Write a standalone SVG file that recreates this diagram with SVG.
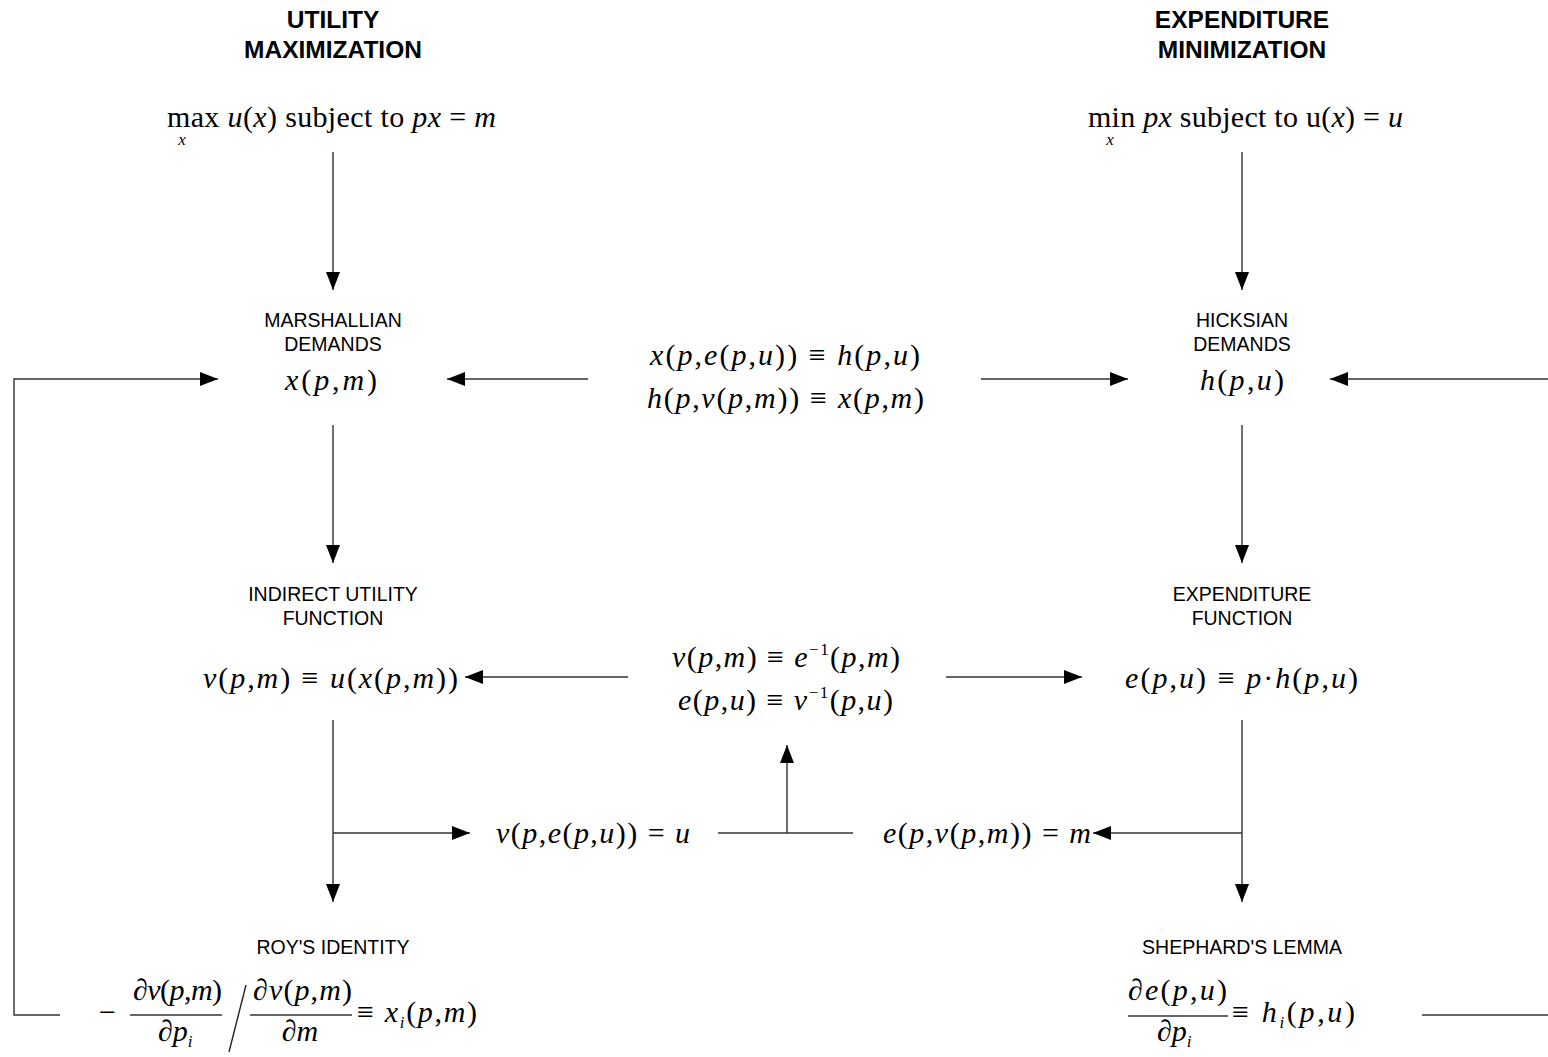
<svg xmlns="http://www.w3.org/2000/svg" width="1548" height="1057" viewBox="0 0 1548 1057">
<defs>
<marker id="ah" markerUnits="userSpaceOnUse" markerWidth="18" markerHeight="14" refX="18" refY="7" orient="auto">
<path d="M0,0 L18,7 L0,14 z" fill="#000"/>
</marker>
<style>
.ttl{font-family:"Liberation Sans",Arial,sans-serif;font-weight:bold;font-size:24.5px;fill:#000;text-anchor:middle}
.lbl{font-family:"Liberation Sans",Arial,sans-serif;font-size:19.5px;fill:#000;text-anchor:middle}
.m{font-family:"Liberation Serif","Times New Roman",serif;font-size:30px;fill:#000}
.i{font-style:italic}
.sm{font-size:17px}
.c{stroke:#333;stroke-width:1.4;fill:none}
.a{marker-end:url(#ah)}
</style>
</defs>
<rect width="1548" height="1057" fill="#fff"/>

<g id="connectors">
<line class="c a" x1="333" y1="152" x2="333" y2="290"/>
<line class="c a" x1="1242" y1="152" x2="1242" y2="290"/>
<line class="c a" x1="588" y1="379" x2="447" y2="379"/>
<line class="c a" x1="981" y1="379" x2="1128" y2="379"/>
<line class="c a" x1="1548" y1="379" x2="1330" y2="379"/>
<polyline class="c a" points="60,1015 14,1015 14,379 218,379"/>
<line class="c a" x1="333" y1="425" x2="333" y2="563"/>
<line class="c a" x1="1242" y1="425" x2="1242" y2="563"/>
<line class="c a" x1="628" y1="677" x2="465" y2="677"/>
<line class="c a" x1="946" y1="677" x2="1082" y2="677"/>
<line class="c a" x1="333" y1="720" x2="333" y2="902"/>
<line class="c a" x1="333" y1="833" x2="470" y2="833"/>
<line class="c a" x1="1242" y1="720" x2="1242" y2="902"/>
<line class="c a" x1="1242" y1="833" x2="1093" y2="833"/>
<line class="c" x1="718" y1="833" x2="853" y2="833"/>
<line class="c a" x1="787" y1="833" x2="787" y2="745"/>
<line class="c" x1="1422" y1="1015" x2="1548" y2="1015"/>
</g>

<g id="utility-max">
<text class="ttl" x="333" y="28">UTILITY</text>
<text class="ttl" x="333" y="58">MAXIMIZATION</text>
<text class="m" x="167" y="127" textLength="329" lengthAdjust="spacing">max <tspan class="i">u</tspan>(<tspan class="i">x</tspan>) subject to <tspan class="i">px</tspan> = <tspan class="i">m</tspan></text>
<text class="m i sm" x="182" y="145" text-anchor="middle">x</text>
</g>

<g id="expenditure-min">
<text class="ttl" x="1242" y="28">EXPENDITURE</text>
<text class="ttl" x="1242" y="58">MINIMIZATION</text>
<text class="m" x="1088" y="127" textLength="315" lengthAdjust="spacing">min  <tspan class="i">px</tspan> subject to u(<tspan class="i">x</tspan>) = <tspan class="i">u</tspan></text>
<text class="m i sm" x="1110" y="145" text-anchor="middle">x</text>
</g>

<g id="marshallian">
<text class="lbl" x="333" y="327">MARSHALLIAN</text>
<text class="lbl" x="333" y="351">DEMANDS</text>
<text class="m" x="285" y="390" textLength="92" lengthAdjust="spacing"><tspan class="i">x</tspan>(<tspan class="i">p</tspan>,<tspan class="i">m</tspan>)</text>
</g>

<g id="duality-demands">
<text class="m" x="650" y="365" textLength="270" lengthAdjust="spacing"><tspan class="i">x</tspan>(<tspan class="i">p</tspan>,<tspan class="i">e</tspan>(<tspan class="i">p</tspan>,<tspan class="i">u</tspan>)) ≡ <tspan class="i">h</tspan>(<tspan class="i">p</tspan>,<tspan class="i">u</tspan>)</text>
<text class="m" x="647" y="408" textLength="277" lengthAdjust="spacing"><tspan class="i">h</tspan>(<tspan class="i">p</tspan>,<tspan class="i">v</tspan>(<tspan class="i">p</tspan>,<tspan class="i">m</tspan>)) ≡ <tspan class="i">x</tspan>(<tspan class="i">p</tspan>,<tspan class="i">m</tspan>)</text>
</g>

<g id="hicksian">
<text class="lbl" x="1242" y="327">HICKSIAN</text>
<text class="lbl" x="1242" y="351">DEMANDS</text>
<text class="m" x="1200" y="390" textLength="84" lengthAdjust="spacing"><tspan class="i">h</tspan>(<tspan class="i">p</tspan>,<tspan class="i">u</tspan>)</text>
</g>

<g id="indirect-utility">
<text class="lbl" x="333" y="601">INDIRECT UTILITY</text>
<text class="lbl" x="333" y="625">FUNCTION</text>
<text class="m" x="203" y="688" textLength="255" lengthAdjust="spacing"><tspan class="i">v</tspan>(<tspan class="i">p</tspan>,<tspan class="i">m</tspan>) ≡ <tspan class="i">u</tspan>(<tspan class="i">x</tspan>(<tspan class="i">p</tspan>,<tspan class="i">m</tspan>))</text>
</g>

<g id="duality-functions">
<text class="m" x="672" y="667" textLength="228" lengthAdjust="spacing"><tspan class="i">v</tspan>(<tspan class="i">p</tspan>,<tspan class="i">m</tspan>) ≡ <tspan class="i">e</tspan><tspan class="sm" dy="-12">−1</tspan><tspan dy="12">(</tspan><tspan class="i">p</tspan>,<tspan class="i">m</tspan>)</text>
<text class="m" x="678" y="710" textLength="215" lengthAdjust="spacing"><tspan class="i">e</tspan>(<tspan class="i">p</tspan>,<tspan class="i">u</tspan>) ≡ <tspan class="i">v</tspan><tspan class="sm" dy="-12">−1</tspan><tspan dy="12">(</tspan><tspan class="i">p</tspan>,<tspan class="i">u</tspan>)</text>
</g>

<g id="expenditure-function">
<text class="lbl" x="1242" y="601">EXPENDITURE</text>
<text class="lbl" x="1242" y="625">FUNCTION</text>
<text class="m" x="1125" y="688" textLength="233" lengthAdjust="spacing"><tspan class="i">e</tspan>(<tspan class="i">p</tspan>,<tspan class="i">u</tspan>) ≡ <tspan class="i">p</tspan>·<tspan class="i">h</tspan>(<tspan class="i">p</tspan>,<tspan class="i">u</tspan>)</text>
</g>

<g id="identity-v">
<text class="m" x="496" y="843" textLength="194" lengthAdjust="spacing"><tspan class="i">v</tspan>(<tspan class="i">p</tspan>,<tspan class="i">e</tspan>(<tspan class="i">p</tspan>,<tspan class="i">u</tspan>)) = <tspan class="i">u</tspan></text>
</g>

<g id="identity-e">
<text class="m" x="883" y="843" textLength="208" lengthAdjust="spacing"><tspan class="i">e</tspan>(<tspan class="i">p</tspan>,<tspan class="i">v</tspan>(<tspan class="i">p</tspan>,<tspan class="i">m</tspan>)) = <tspan class="i">m</tspan></text>
</g>

<g id="roys-identity">
<text class="lbl" x="333" y="954">ROY'S IDENTITY</text>
<text class="m" x="99" y="1022">−</text>
<text class="m" x="133" y="1000" textLength="89" lengthAdjust="spacing">∂<tspan class="i">v</tspan>(<tspan class="i">p</tspan>,<tspan class="i">m</tspan>)</text>
<line x1="130" y1="1015" x2="222" y2="1015" stroke="#333" stroke-width="1.4"/>
<text class="m" x="158" y="1041">∂<tspan class="i">p</tspan><tspan class="i sm" dy="6">i</tspan></text>
<line x1="246" y1="985" x2="229" y2="1052" stroke="#222" stroke-width="1.4"/>
<text class="m" x="253" y="1000" textLength="99" lengthAdjust="spacing">∂<tspan class="i">v</tspan>(<tspan class="i">p</tspan>,<tspan class="i">m</tspan>)</text>
<line x1="250" y1="1015" x2="352" y2="1015" stroke="#333" stroke-width="1.4"/>
<text class="m" x="300" y="1041" text-anchor="middle">∂<tspan class="i">m</tspan></text>
<text class="m" x="357" y="1022" textLength="120" lengthAdjust="spacing">≡ <tspan class="i">x</tspan><tspan class="i sm" dy="6">i</tspan><tspan dy="-6">(</tspan><tspan class="i">p</tspan>,<tspan class="i">m</tspan>)</text>
</g>

<g id="shephards-lemma">
<text class="lbl" x="1242" y="954">SHEPHARD'S LEMMA</text>
<text class="m" x="1128" y="1000" textLength="99" lengthAdjust="spacing">∂<tspan class="i">e</tspan>(<tspan class="i">p</tspan>,<tspan class="i">u</tspan>)</text>
<line x1="1128" y1="1016" x2="1228" y2="1016" stroke="#333" stroke-width="1.4"/>
<text class="m" x="1157" y="1041">∂<tspan class="i">p</tspan><tspan class="i sm" dy="6">i</tspan></text>
<text class="m" x="1232" y="1022" textLength="123" lengthAdjust="spacing">≡ <tspan class="i">h</tspan><tspan class="i sm" dy="6">i</tspan><tspan dy="-6">(</tspan><tspan class="i">p</tspan>,<tspan class="i">u</tspan>)</text>
</g>
</svg>
